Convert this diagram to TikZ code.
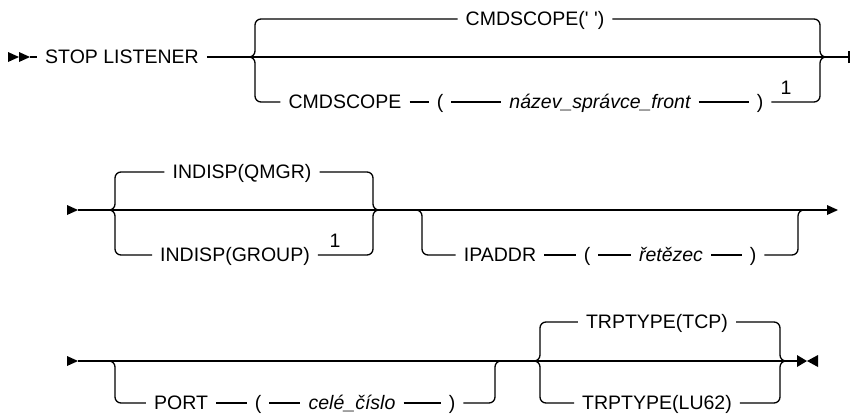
\documentclass[tikz,border=0pt]{standalone}
\usepackage{fontspec}
\newfontfamily\railfont{Liberation Sans}
\usepackage{tikz}
\usetikzlibrary{calc}
\tikzstyle{synkw} = [
  font=\railfont\fontsize{19.5}{22}\selectfont,
  inner xsep=8pt, inner ysep=1pt, text height=13.6pt, text depth=0pt
]
\tikzstyle{synvar} = [synkw, font=\railfont\fontsize{19.5}{22}\selectfont\itshape]
\tikzstyle{rail} = [line width=1.3pt]
\tikzstyle{branch} = [rail, rounded corners=6pt]
\tikzstyle{endbar} = [line width=2.2pt]

\begin{document}
\begin{tikzpicture}[x=1pt, y=-1pt]
  \useasboundingbox (0,0) rectangle (851,413);

  % row 1
  \coordinate (s1) at (30,57);
  \node[synkw] (stop) at (122,57) {STOP LISTENER};
  \coordinate (b1l) at (248,57);
  \coordinate (b1r) at (827,57);
  \coordinate (e1) at (849,57);
  \node[synkw] (cmdq) at (535,19) {CMDSCOPE(\char39\ \char39)};
  \node[synkw] (cmd) at (345,102) {CMDSCOPE};
  \node[synkw] (lp1) at (440,102) {(};
  \node[synvar] (qmn) at (600,102) {název\_správce\_front};
  \node[synkw] (rp1) at (760,102) {)};
  \node[synkw] (fn1) at (786,88) {1};

  \fill (s1) ++(-22,-5) -- ++(11,5) -- ++(-11,5) -- cycle;
  \fill (s1) ++(-11,-5) -- ++(11,5) -- ++(-11,5) -- cycle;
  \draw[rail] (s1) -- (stop.west);
  \draw[rail] (stop.east) -- (b1l) -- (b1r) -- (e1);
  \draw[branch] (b1l) -- ([xshift=7pt]b1l) |- (cmdq.west);
  \draw[branch] (cmdq.east) -| ([xshift=-7pt]b1r) -- (b1r);
  \draw[branch] (b1l) -- ([xshift=7pt]b1l) |- (cmd.west);
  \draw[rail] (cmd) -- (lp1) -- (qmn) -- (rp1);
  \draw[branch] (rp1.east) -| ([xshift=-7pt]b1r) -- (b1r);
  \draw[endbar] ([yshift=-6pt]e1) -- ([yshift=6pt]e1);

  % row 2
  \coordinate (s2) at (78,210);
  \coordinate (b2l) at (108,210);
  \coordinate (b2r) at (380,210);
  \coordinate (o2l) at (415,210);
  \coordinate (o2r) at (805,210);
  \coordinate (a2) at (827,210);
  \node[synkw] (qm) at (242,172) {INDISP(QMGR)};
  \node[synkw] (grp) at (235,255) {INDISP(GROUP)};
  \node[synkw] (fn2) at (335,241) {1};
  \node[synkw] (ip) at (500,255) {IPADDR};
  \node[synkw] (lp2) at (587,255) {(};
  \node[synvar] (str) at (671,255) {řetězec};
  \node[synkw] (rp2) at (753,255) {)};

  \fill (s2) ++(-11,-5) -- ++(11,5) -- ++(-11,5) -- cycle;
  \draw[rail] (s2) -- (b2l) -- (b2r) -- (o2l) -- (o2r) -- (a2);
  \fill (a2) ++(0,-5) -- ++(11,5) -- ++(-11,5) -- cycle;
  \draw[branch] (b2l) -- ([xshift=7pt]b2l) |- (qm.west);
  \draw[branch] (qm.east) -| ([xshift=-7pt]b2r) -- (b2r);
  \draw[branch] (b2l) -- ([xshift=7pt]b2l) |- (grp.west);
  \draw[branch] (grp.east) -| ([xshift=-7pt]b2r) -- (b2r);
  \draw[branch] (o2l) -- ([xshift=7pt]o2l) |- (ip.west);
  \draw[rail] (ip) -- (lp2) -- (str) -- (rp2);
  \draw[branch] (rp2.east) -| ([xshift=-7pt]o2r) -- (o2r);

  % row 3
  \coordinate (s3) at (78,361);
  \coordinate (o3l) at (108,361);
  \coordinate (o3r) at (502,361);
  \coordinate (b3l) at (533,361);
  \coordinate (b3r) at (787,361);
  \coordinate (e3) at (797,361);
  \node[synkw] (port) at (181,403) {PORT};
  \node[synkw] (lp3) at (258,403) {(};
  \node[synvar] (num) at (352,403) {celé\_číslo};
  \node[synkw] (rp3) at (452,403) {)};
  \node[synkw] (tcp) at (657,322) {TRPTYPE(TCP)};
  \node[synkw] (lu) at (657,403) {TRPTYPE(LU62)};

  \fill (s3) ++(-11,-5) -- ++(11,5) -- ++(-11,5) -- cycle;
  \draw[rail] (s3) -- (o3l) -- (o3r) -- (b3l) -- (b3r) -- (e3);
  \draw[branch] (o3l) -- ([xshift=7pt]o3l) |- (port.west);
  \draw[rail] (port) -- (lp3) -- (num) -- (rp3);
  \draw[branch] (rp3.east) -| ([xshift=-7pt]o3r) -- (o3r);
  \draw[branch] (b3l) -- ([xshift=7pt]b3l) |- (tcp.west);
  \draw[branch] (tcp.east) -| ([xshift=-7pt]b3r) -- (b3r);
  \draw[branch] (b3l) -- ([xshift=7pt]b3l) |- (lu.west);
  \draw[branch] (lu.east) -| ([xshift=-7pt]b3r) -- (b3r);
  \fill (e3) ++(0,-6) -- ++(10,6) -- ++(-10,6) -- cycle;
  \fill (e3) ++(21,-6) -- ++(-11,6) -- ++(11,6) -- cycle;

\end{tikzpicture}
\end{document}
